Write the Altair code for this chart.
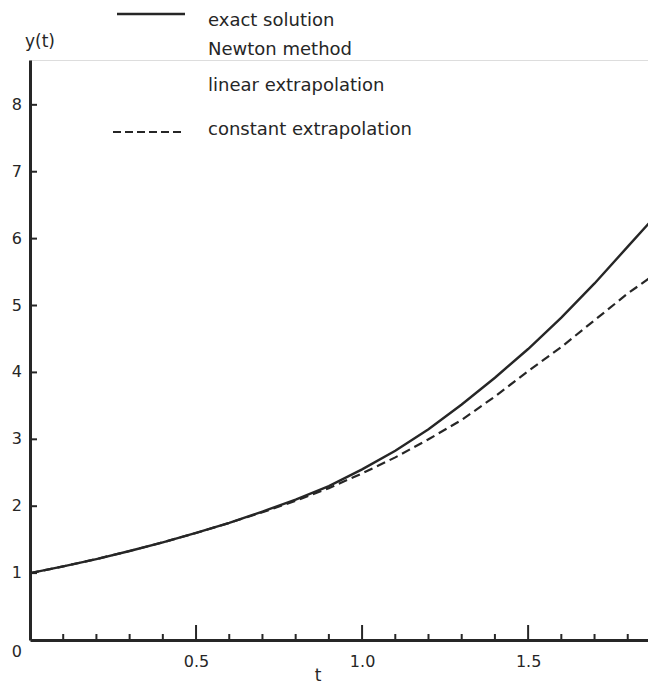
import altair as alt
import pandas as pd

# ---- data ----
t_vals = [0.0, 0.1, 0.2, 0.3, 0.4, 0.5, 0.6, 0.7, 0.8, 0.9, 1.0, 1.1, 1.2, 1.3, 1.4, 1.5, 1.6, 1.7, 1.8, 1.88]
exact = [1.00, 1.10, 1.21, 1.33, 1.46, 1.60, 1.75, 1.92, 2.10, 2.30, 2.55, 2.83, 3.15, 3.52, 3.92, 4.35, 4.82, 5.33, 5.88, 6.32]
const_extrap = [1.00, 1.10, 1.21, 1.33, 1.46, 1.60, 1.75, 1.91, 2.08, 2.27, 2.49, 2.73, 3.00, 3.29, 3.64, 4.02, 4.38, 4.78, 5.18, 5.46]

x_major = [0.5, 1.0, 1.5]
x_minor = [0.1, 0.2, 0.3, 0.4, 0.6, 0.7, 0.8, 0.9, 1.1, 1.2, 1.3, 1.4, 1.6, 1.7, 1.8]
y_ticks = [1, 2, 3, 4, 5, 6, 7, 8]
legend_labels = ["exact solution", "Newton method", "linear extrapolation", "constant extrapolation"]
y_title = "y(t)"
x_title = "t"

# ---- styling ----
FONT = "DejaVu Sans"
INK = "#262626"
W, H = 618, 580

xs = alt.Scale(domain=[0, 1.861], nice=False, zero=False)
ys = alt.Scale(domain=[0, 8.67], nice=False, zero=False)

x_axis = alt.Axis(values=x_major, format=".1f", ticks=False, grid=False, title=None,
                  domainColor=INK, domainWidth=3, labelFont=FONT, labelFontSize=16,
                  labelColor=INK, labelPadding=13)
y_axis = alt.Axis(ticks=False, labels=False, grid=False, title=None,
                  domainColor=INK, domainWidth=3)


def X(field):
    return alt.X(field, type="quantitative", scale=xs, axis=x_axis)


def Y(field):
    return alt.Y(field, type="quantitative", scale=ys, axis=y_axis)


curve_df = pd.DataFrame({"t": t_vals, "exact": exact, "const": const_extrap})

dashed = alt.Chart(curve_df).mark_line(color=INK, strokeWidth=2.2, strokeDash=[9, 5], clip=True).encode(
    x=X("t"), y=Y("const"))
solid = alt.Chart(curve_df).mark_line(color=INK, strokeWidth=2.4, clip=True).encode(
    x=X("t"), y=Y("exact"))

minor_df = pd.DataFrame({"t": x_minor})
major_df = pd.DataFrame({"t": x_major})
ytick_df = pd.DataFrame({"v": y_ticks})
ylab_df = pd.DataFrame({"v": y_ticks, "lab": [str(v) for v in y_ticks]})

minor_ticks = alt.Chart(minor_df).mark_rule(color=INK, strokeWidth=2).encode(
    x=X("t"), y=alt.value(H), y2=alt.value(H - 6))
major_ticks = alt.Chart(major_df).mark_rule(color=INK, strokeWidth=2).encode(
    x=X("t"), y=alt.value(H), y2=alt.value(H - 15))
y_tick_marks = alt.Chart(ytick_df).mark_rule(color=INK, strokeWidth=2).encode(
    y=Y("v"), x=alt.value(0), x2=alt.value(7))
y_labels = alt.Chart(ylab_df).mark_text(font=FONT, fontSize=16, color=INK, align="right",
                                         baseline="middle").encode(
    y=Y("v"), x=alt.value(-8), text="lab:N")

one = pd.DataFrame({"a": [0]})
zero_label = alt.Chart(one).mark_text(font=FONT, fontSize=16, color=INK, align="right",
                                      baseline="middle", text="0").encode(
    x=alt.value(-8), y=alt.value(H + 12))
ytitle = alt.Chart(one).mark_text(font=FONT, fontSize=17, color=INK, align="center",
                                  baseline="middle", text=y_title).encode(
    x=alt.value(10), y=alt.value(-18))
xtitle = alt.Chart(one).mark_text(font=FONT, fontSize=17, color=INK, align="center",
                                  baseline="middle", text=x_title).encode(
    x=alt.value(288), y=alt.value(H + 36))

legend_y = [-39, -10, 26, 70]
legend_layers = []
for lab, ly in zip(legend_labels, legend_y):
    legend_layers.append(
        alt.Chart(one).mark_text(font=FONT, fontSize=18, color=INK, align="left",
                                 baseline="middle", text=lab).encode(
            x=alt.value(178), y=alt.value(ly)))
leg_solid = alt.Chart(one).mark_rule(color=INK, strokeWidth=2.4).encode(
    x=alt.value(87), x2=alt.value(155), y=alt.value(-46))
leg_dash = alt.Chart(one).mark_rule(color=INK, strokeWidth=2.2, strokeDash=[8, 4]).encode(
    x=alt.value(83), x2=alt.value(153), y=alt.value(72))

chart = alt.layer(
    dashed, solid, minor_ticks, major_ticks, y_tick_marks, y_labels, zero_label,
    ytitle, xtitle, leg_solid, leg_dash, *legend_layers
).properties(
    width=W, height=H,
    padding={"left": 22, "top": 52, "right": 0, "bottom": 45},
    autosize=alt.AutoSizeParams(type="none"),
).configure_view(stroke=None).configure(background="white")

chart.save("out.html", embed_options={"renderer": "svg", "actions": False})
